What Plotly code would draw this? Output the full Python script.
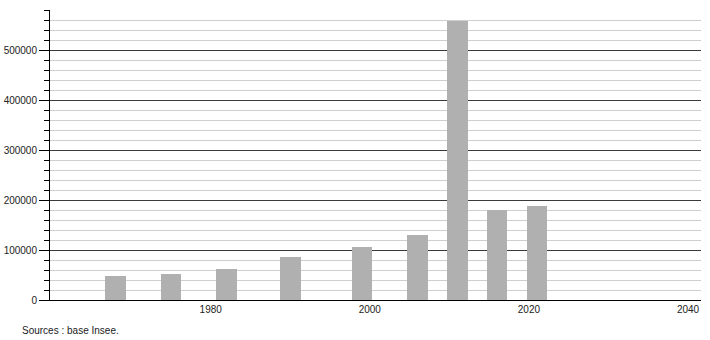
import plotly.graph_objects as go

years = [1968, 1975, 1982, 1990, 1999, 2006, 2011, 2016, 2021]
population = [48000, 52000, 62000, 86000, 106000, 130000, 558500, 180000, 188000]
x_ticks = [1980, 2000, 2020, 2040]
y_ticks = [0, 100000, 200000, 300000, 400000, 500000]
source_text = "Sources : base Insee."

fig = go.Figure()
fig.add_trace(go.Bar(
    x=years, y=population, width=2.6,
    marker=dict(color="#b0b0b0", line=dict(width=0)),
    hoverinfo="x+y",
))

W, H = 710, 340
ml, mr, mt, mb = 50, 9, 10, 40

fig.update_layout(
    width=W, height=H,
    margin=dict(l=ml, r=mr, t=mt, b=mb, pad=0, autoexpand=False),
    paper_bgcolor="white", plot_bgcolor="white",
    showlegend=False,
    bargap=0,
    font=dict(family="Liberation Sans, Arial, sans-serif", size=10, color="#222"),
    xaxis=dict(
        range=[1959.8, 2041.63], automargin=False,
        tickmode="array", tickvals=x_ticks, ticktext=[str(v) for v in x_ticks],
        showgrid=False, zeroline=False,
        showline=True, linecolor="black", linewidth=1,
        ticks="", ticklen=0,
        tickfont=dict(family="Liberation Sans, Arial, sans-serif", size=10, color="#222"),
        fixedrange=True,
    ),
    yaxis=dict(
        range=[0, 580000], automargin=False,
        tickmode="array", tickvals=y_ticks, ticktext=[str(v) for v in y_ticks],
        showgrid=True, gridcolor="#3a3a3a", gridwidth=1,
        zeroline=False,
        showline=True, linecolor="black", linewidth=1,
        ticks="outside", ticklen=10, tickcolor="black", tickwidth=1,
        tickfont=dict(family="Liberation Sans, Arial, sans-serif", size=10, color="#222"),
        minor=dict(dtick=20000, tick0=0, showgrid=True, gridcolor="#cfcfcf",
                   gridwidth=1, ticks="outside", ticklen=5, tickcolor="black"),
        fixedrange=True,
    ),
    annotations=[dict(
        text=source_text, xref="paper", yref="paper",
        x=(20 - ml) / (W - ml - mr), y=-(330 - (H - mb)) / (H - mt - mb),
        xanchor="left", yanchor="middle", showarrow=False,
        font=dict(family="Liberation Sans, Arial, sans-serif", size=10, color="#222"),
    )],
)

fig.write_html("out.html")
